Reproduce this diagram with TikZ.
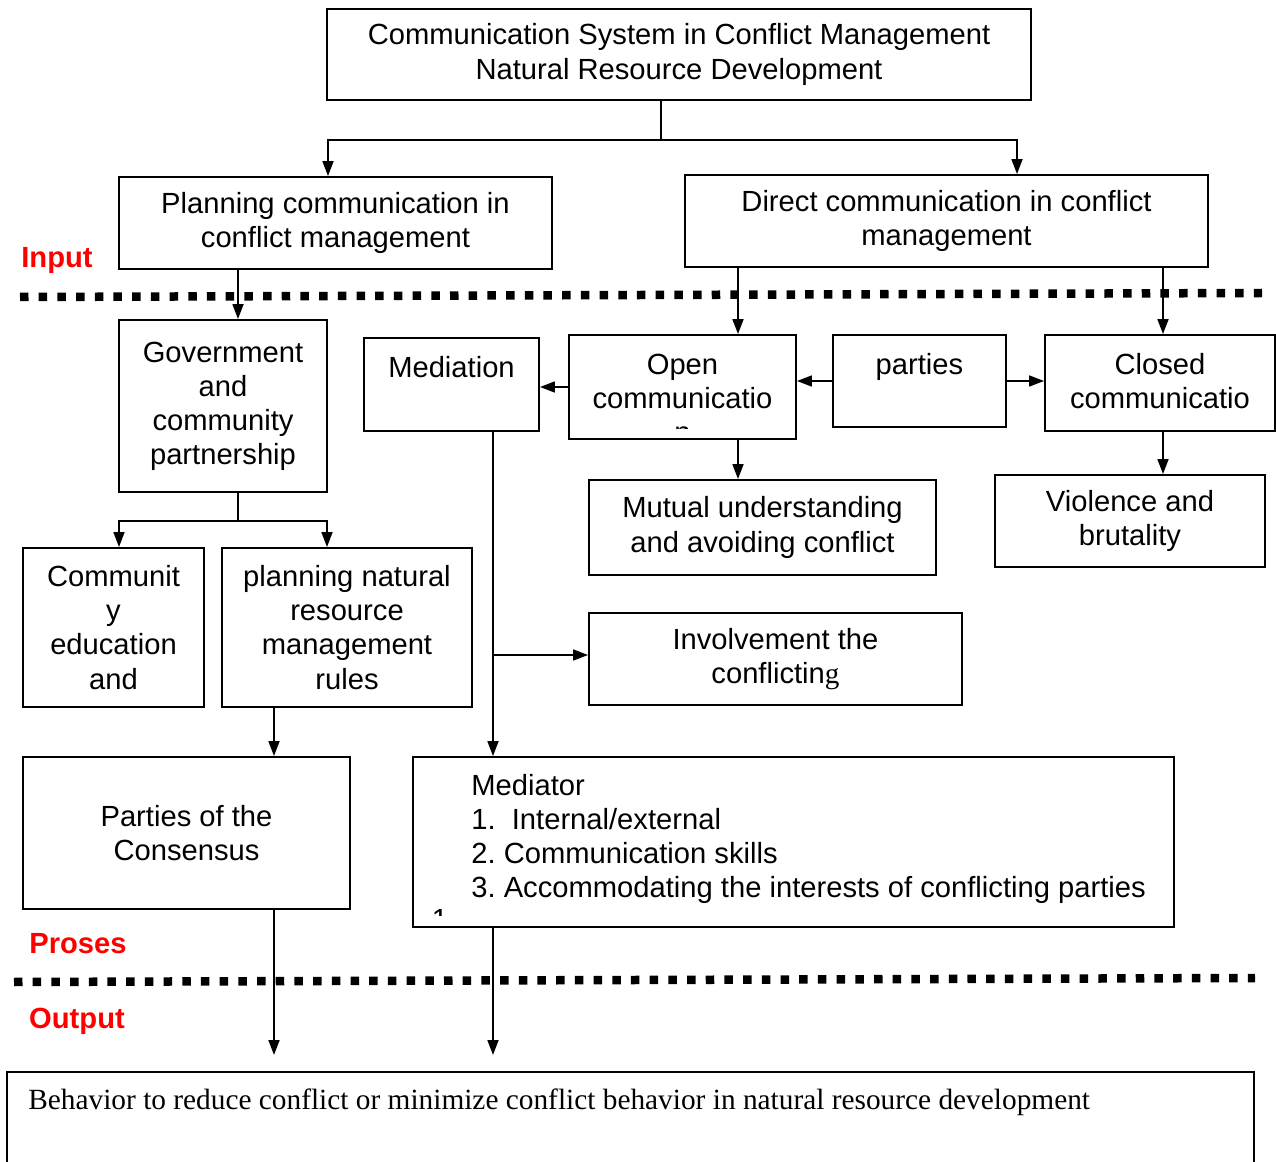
\documentclass[tikz,border=0pt]{standalone}
\usepackage{fontspec}
\setmainfont{Liberation Sans}
\newfontfamily\serif{Liberation Serif}
\usetikzlibrary{arrows.meta}
\newcommand{\fs}{\fontsize{16.6}{19.4}\selectfont}
\frenchspacing

\begin{document}
\begin{tikzpicture}[x=0.02cm,y=-0.02cm,
	box/.style={draw,line width=1.1pt,align=center,inner sep=0pt,font=\fs},
	txt/.style={align=center,inner sep=0pt,font=\fs},
	tag/.style={inner sep=0pt,text=red,font=\fs\bfseries},
	arr/.style={line width=1pt,-{Triangle[length=0.3cm,width=0.22cm]}},
	wire/.style={line width=1pt},
	divider/.style={line width=0.17cm,dash pattern=on 0.17cm off 0.204cm}]
		
		\useasboundingbox (0,0) rectangle (1276,1162);
		
		\node[box,minimum width=14.08cm,minimum height=1.82cm] (1) at (679,54.5) {Communication System in Conflict Management\\Natural Resource Development};
		\node[box,minimum width=8.66cm,minimum height=1.84cm] (2) at (335.5,223) {Planning communication in\\conflict management};
		\node[box,minimum width=10.46cm,minimum height=1.84cm] (3) at (946.5,221) {Direct communication in conflict\\management};
		\node[box,minimum width=4.16cm,minimum height=3.44cm] (4) at (223,406) {Government\\and\\community\\partnership};
		\node[box,minimum width=3.5cm,minimum height=1.86cm] (5) at (451.5,384.5) {};
		\node[box,minimum width=4.54cm,minimum height=2.08cm] (6) at (682.5,387) {};
		\node[box,minimum width=3.46cm,minimum height=1.84cm] (7) at (919.5,381) {};
		\node[box,minimum width=4.6cm,minimum height=1.92cm] (8) at (1160,383) {};
		\node[box,minimum width=6.94cm,minimum height=1.9cm] (9) at (762.5,527.5) {Mutual understanding\\and avoiding conflict};
		\node[box,minimum width=5.4cm,minimum height=1.84cm] (10) at (1130,521) {Violence and\\brutality};
		\node[box,minimum width=3.62cm,minimum height=3.18cm] (11) at (113.5,627.5) {Communit\\y\\education\\and};
		\node[box,minimum width=5cm,minimum height=3.18cm] (12) at (347,627.5) {planning natural\\resource\\management\\rules};
		\node[box,minimum width=7.46cm,minimum height=1.84cm] (13) at (775.5,659) {Involvement the\\conflictin{\serif g}};
		\node[box,minimum width=6.54cm,minimum height=3.04cm] (14) at (186.5,833) {Parties of the\\Consensus};
		\node[box,minimum width=15.22cm,minimum height=3.4cm] (15) at (793.5,842) {};
		\node[box,minimum width=24.94cm,minimum height=2cm] (16) at (630.5,1122) {};
		
		% texts set at the top of their boxes
		\node[txt] (5t) at (451.5,367) {Mediation};
		\node[txt] (7t) at (919.5,367) {parties};
		\node[txt] (8t) at (1160,381) {Closed\\communicatio};
		\begin{scope}
			\clip (569,335) rectangle (796,429);
			\node[txt] (6t) at (682.5,398) {Open\\communicatio\\n};
		\end{scope}
		\node[txt,align=left,anchor=west] (15t) at (471,839) {Mediator\\1.\ \ Internal/external\\2. Communication skills\\3. Accommodating the interests of conflicting parties};
		\begin{scope}
			\clip (413,757) rectangle (1174,915);
			\node[txt] (15n) at (440,919) {1};
		\end{scope}
		\node[inner sep=0pt,anchor=west,font=\serif\fontsize{16.7}{19}\selectfont] (16t) at (28,1102) {Behavior to reduce conflict or minimize conflict behavior in natural resource development};
		
		\node[tag] (in) at (57,260) {Input};
		\node[tag] (pr) at (78,944) {Proses};
		\node[tag] (out) at (77,1021) {Output};
		
		\draw[divider] (20,297) -- (1262,293);
		\draw[divider] (14,982) -- (1255,978);
		
		\coordinate (j1) at (661,140);
		\coordinate (j2) at (238,521);
		\coordinate (j3) at (493,655);
		\coordinate (e1) at (274,1055);
		\coordinate (e2) at (493,1055);
		
		\draw[wire] (1.south -| j1) -- (j1);
		\draw[arr] (j1) -| (2.north -| 328,0);
		\draw[arr] (j1) -| (3.north -| 1017,0);
		\draw[arr] (2.south -| 238,0) -- (4.north -| 238,0);
		\draw[arr] (3.south -| 738,0) -- (6.north -| 738,0);
		\draw[arr] (3.south -| 1163,0) -- (8.north -| 1163,0);
		\draw[arr] (6.west) -- (5.east |- 6.west);
		\draw[arr] (7.west) -- (6.east |- 7.west);
		\draw[arr] (7.east) -- (8.west |- 7.east);
		\draw[arr] (6.south -| 738,0) -- (9.north -| 738,0);
		\draw[arr] (8.south -| 1163,0) -- (10.north -| 1163,0);
		
		\draw[wire] (4.south -| j2) -- (j2);
		\draw[arr] (j2) -| (11.north -| 119,0);
		\draw[arr] (j2) -| (12.north -| 327,0);
		\draw[arr] (12.south -| 274,0) -- (14.north -| 274,0);
		
		\draw[arr] (5.south -| 493,0) -- (15.north -| 493,0);
		\draw[arr] (j3) -- (13.west |- j3);
		
		\draw[arr] (14.south -| e1) -- (e1);
		\draw[arr] (15.south -| e2) -- (e2);
		
\end{tikzpicture}
\end{document}
